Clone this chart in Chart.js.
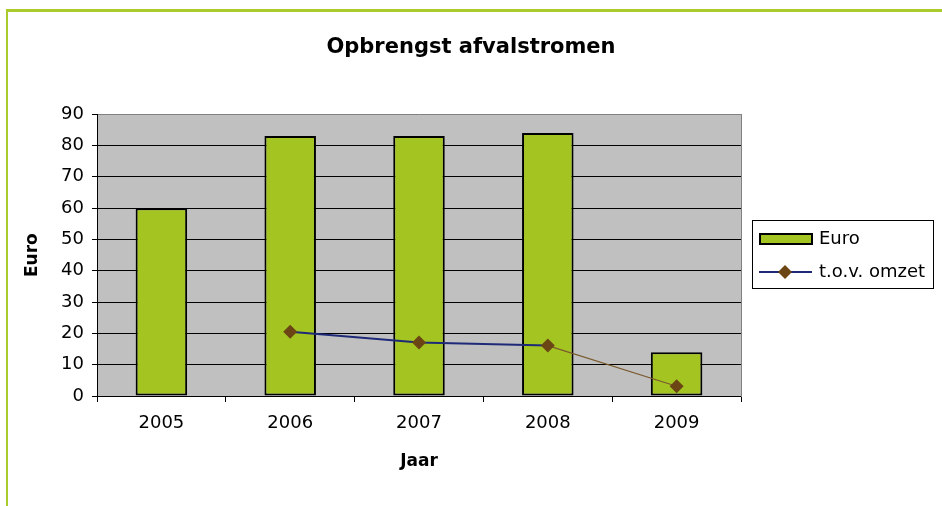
<!DOCTYPE html>
<html><head><meta charset="utf-8">
<script src="https://cdn.jsdelivr.net/npm/chart.js@4.4.1/dist/chart.umd.min.js"></script>
<style>
html,body{margin:0;padding:0;background:#fff;overflow:hidden}
#wrap{position:relative;width:942px;height:506px}
#frame{position:absolute;left:6px;top:9px;width:1000px;height:600px;border-left:2px solid #AACB2B;border-top:3px solid #AACB2B}
canvas{position:absolute;left:0;top:0}
</style></head><body>
<div id="wrap"><div id="frame"></div><canvas id="c" width="942" height="506"></canvas></div>
<script>
// data
const years = ["2005", "2006", "2007", "2008", "2009"];
const euro = [60, 83, 83, 84, 14];
const tovOmzet = [null, 20.5, 17.1, 16.1, 3.1];
const yMin = 0, yMax = 90, yStep = 10;

const BAR = "#A4C422", NAVY = "#1E2A78", BROWN = "#6B4614", BROWN_LINE = "#7A5A2E";
const FONT = "'DejaVu Sans', sans-serif";

// grey plot background
const plotBg = {
  id: "plotBg",
  beforeDraw(chart) {
    const a = chart.chartArea, ctx = chart.ctx;
    ctx.save(); ctx.fillStyle = "#C0C0C0";
    ctx.fillRect(a.left, a.top, a.right - a.left, a.bottom - a.top);
    ctx.restore();
  }
};

// legend with a black box around it, like the old Excel one
const boxLegend = {
  id: "boxLegend",
  afterDraw(chart) {
    const ctx = chart.ctx, a = chart.chartArea;
    const ds = chart.data.datasets;
    const barDs = ds.find(d => d.type === "bar"), lineDs = ds.find(d => d.type === "line");
    const x = a.right + 11, y = 220, w = 181, h = 68;
    ctx.save();
    ctx.strokeStyle = "#000"; ctx.lineWidth = 1;
    ctx.strokeRect(x + 0.5, y + 0.5, w, h);
    // bar swatch
    ctx.fillStyle = BAR; ctx.fillRect(x + 8, y + 14, 52, 10);
    ctx.lineWidth = 2; ctx.strokeRect(x + 8, y + 14, 52, 10);
    // line swatch
    ctx.strokeStyle = NAVY; ctx.lineWidth = 2;
    ctx.beginPath(); ctx.moveTo(x + 7, y + 52); ctx.lineTo(x + 60, y + 52); ctx.stroke();
    ctx.fillStyle = BROWN;
    ctx.beginPath();
    ctx.moveTo(x + 33, y + 45); ctx.lineTo(x + 40, y + 52); ctx.lineTo(x + 33, y + 59); ctx.lineTo(x + 26, y + 52);
    ctx.closePath(); ctx.fill();
    ctx.fillStyle = "#000"; ctx.font = "18px " + FONT; ctx.textBaseline = "middle";
    ctx.fillText(barDs.label, x + 67, y + 19);
    ctx.fillText(lineDs.label, x + 67, y + 52);
    ctx.restore();
  }
};

new Chart(document.getElementById("c"), {
  data: {
    labels: years,
    datasets: [
      { type: "line", label: "t.o.v. omzet", data: tovOmzet, order: 1,
        borderColor: NAVY, borderWidth: 2,
        segment: {
          borderColor: c => c.p0DataIndex === 3 ? BROWN_LINE : NAVY,
          borderWidth: c => c.p0DataIndex === 3 ? 1.2 : 2
        },
        pointStyle: "rectRot", pointRadius: 7, pointBackgroundColor: BROWN,
        pointBorderColor: BROWN, pointBorderWidth: 0, tension: 0 },
      { type: "bar", label: "Euro", data: euro, order: 2,
        backgroundColor: BAR, borderColor: "#000", borderWidth: 2, borderSkipped: false,
        categoryPercentage: 1, barPercentage: 0.4 }
    ]
  },
  options: {
    responsive: false, animation: false,
    layout: { padding: 0 },
    plugins: {
      legend: { display: false },
      tooltip: { enabled: false },
      title: { display: true, text: "Opbrengst afvalstromen", color: "#000",
        font: { family: FONT, size: 21, weight: "bold", lineHeight: 1.2 },
        padding: { top: 35, bottom: 54 } }
    },
    scales: {
      x: {
        offset: true,
        grid: { offset: true, drawOnChartArea: false, drawTicks: true, tickLength: 6, color: "#000" },
        border: { color: "#000", width: 1 },
        ticks: { color: "#000", font: { family: FONT, size: 18 }, padding: 11 },
        title: { display: true, text: "Jaar", color: "#000",
          font: { family: FONT, size: 17, weight: "bold", lineHeight: 1.2 }, padding: { bottom: 34 } },
        afterFit: s => { s.height = 110; }
      },
      y: {
        min: yMin, max: yMax,
        grid: { color: c => c.tick && c.tick.value === yMax ? "#808080" : "#000", tickColor: "#000", tickLength: 5 },
        border: { color: "#000", width: 1 },
        ticks: { stepSize: yStep, color: "#000", font: { family: FONT, size: 18 }, padding: 8 },
        title: { display: true, text: "Euro", color: "#000",
          font: { family: FONT, size: 17, weight: "bold", lineHeight: 1.2 }, padding: { top: 22 } },
        afterFit: s => { s.width = 97; }
      },
      yR: {
        position: "right", display: true,
        grid: { drawOnChartArea: false, drawTicks: false },
        border: { color: "#808080", width: 1 },
        ticks: { display: false },
        afterFit: s => { s.width = 201; }
      }
    }
  },
  plugins: [plotBg, boxLegend]
});
</script>
</body></html>
